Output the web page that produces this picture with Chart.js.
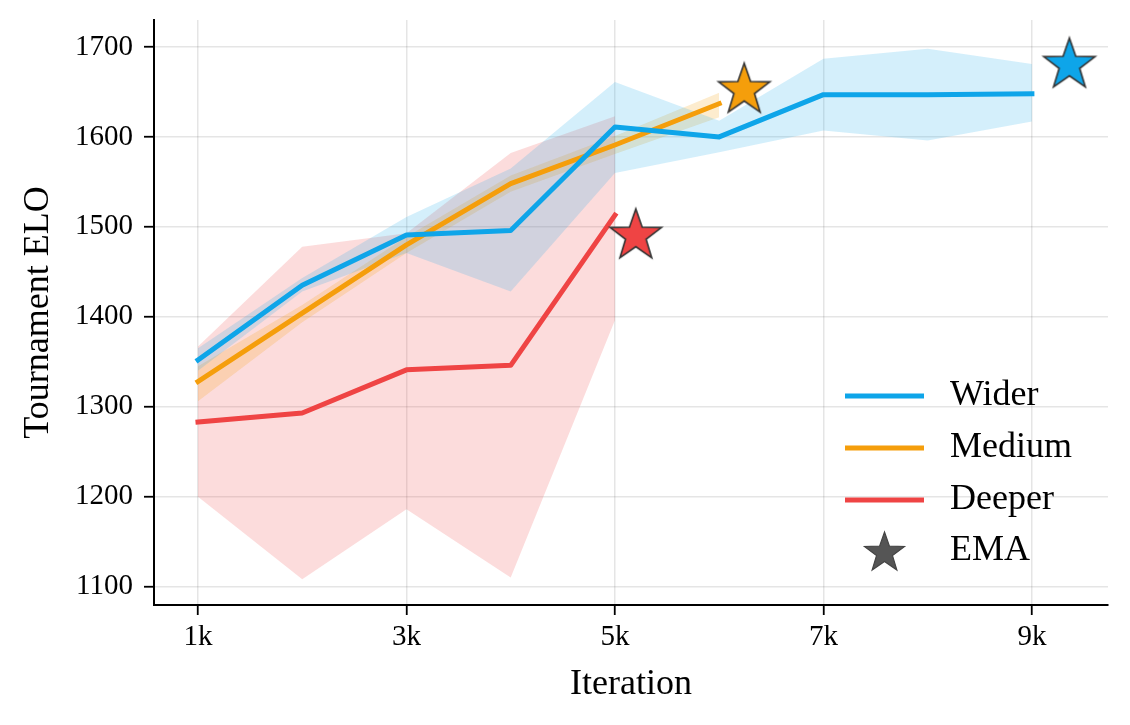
<!DOCTYPE html>
<html>
<head>
<meta charset="utf-8">
<script src="https://cdn.jsdelivr.net/npm/chart.js@4.4.1/dist/chart.umd.min.js"></script>
<style>
  html, body { margin: 0; padding: 0; background: #ffffff; }
  canvas { display: block; }
</style>
</head>
<body>
<canvas id="c" width="1130" height="725"></canvas>
<script>
// ---------------- data ----------------
const ITER = [1000, 2000, 3000, 4000, 5000, 6000, 7000, 8000, 9000];

const WIDER    = [1352, 1435, 1491, 1496, 1611, 1600, 1647, 1647, 1648];
const WIDER_HI = [1365, 1443, 1511, 1565, 1661, 1618, 1687, 1698, 1681];
const WIDER_LO = [1340, 1428, 1471, 1428, 1560, 1583, 1607, 1596, 1617];

const MEDIUM    = [1328, 1404, 1480, 1548, 1591, 1637];
const MEDIUM_HI = [1345, 1413, 1489, 1557, 1601, 1649];
const MEDIUM_LO = [1306, 1394, 1471, 1539, 1581, 1622];

const DEEPER    = [1283, 1293, 1341, 1346, 1513];
const DEEPER_HI = [1367, 1478, 1493, 1582, 1623];
const DEEPER_LO = [1200, 1108, 1186, 1110, 1396];

const EMA_X = [9360, 6240, 5200];
const EMA_Y = [1683, 1655, 1493];

const X_TICKS = [1000, 3000, 5000, 7000, 9000];
const Y_TICKS = [1100, 1200, 1300, 1400, 1500, 1600, 1700];

const SERIES_NAMES = ['Wider', 'Medium', 'Deeper'];
const EMA_NAME = 'EMA';
const X_TITLE = 'Iteration';
const Y_TITLE = 'Tournament ELO';

// ---------------- styles ----------------
const BLUE = '#0ea5e9', ORANGE = '#f59e0b', RED = '#ef4444';
const BLUE_FILL = 'rgba(14,165,233,0.18)';
const ORANGE_FILL = 'rgba(245,158,11,0.20)';
const RED_FILL = 'rgba(239,68,68,0.19)';
const FONT = "'Liberation Serif', 'Times New Roman', serif";
const LW = 5;

function pts(xs, ys) { return ys.map((v, i) => ({ x: xs[i], y: v })); }

function starPath(ctx, cx, cy, R, r) {
  ctx.beginPath();
  for (let i = 0; i < 10; i++) {
    const ang = -Math.PI / 2 + i * Math.PI / 5;
    const rad = (i % 2 === 0) ? R : r;
    const x = cx + rad * Math.cos(ang), y = cy + rad * Math.sin(ang);
    if (i === 0) ctx.moveTo(x, y); else ctx.lineTo(x, y);
  }
  ctx.closePath();
}
function makeStar(fill, R) {
  const s = Math.ceil(R * 2 + 8);
  const cv = document.createElement('canvas');
  cv.width = s; cv.height = s;
  const ctx = cv.getContext('2d');
  starPath(ctx, s / 2, s / 2 + R * 0.1, R, R * 0.4);
  ctx.fillStyle = fill; ctx.fill();
  ctx.lineWidth = 1.6; ctx.strokeStyle = '#333333'; ctx.lineJoin = 'miter';
  ctx.stroke();
  return cv;
}
const STAR_COLORS = [BLUE, ORANGE, RED];
const starImgs = STAR_COLORS.map(c => makeStar(c, 27));

function band(data, fillColor, fillTarget, order) {
  return {
    data, borderWidth: 0, pointRadius: 0, fill: fillTarget,
    backgroundColor: fillColor, borderColor: 'rgba(0,0,0,0)', order, tension: 0
  };
}
function line(label, data, color, order) {
  return {
    label, data, borderColor: color, backgroundColor: color, borderWidth: LW,
    pointRadius: 0, fill: false, tension: 0, order,
    borderJoinStyle: 'round', borderCapStyle: 'square'
  };
}

const datasets = [
  band(pts(ITER, DEEPER_HI), RED_FILL, '+1', 20),
  band(pts(ITER, DEEPER_LO), RED_FILL, false, 20),
  band(pts(ITER, MEDIUM_HI), ORANGE_FILL, '+1', 19),
  band(pts(ITER, MEDIUM_LO), ORANGE_FILL, false, 19),
  band(pts(ITER, WIDER_HI), BLUE_FILL, '+1', 18),
  band(pts(ITER, WIDER_LO), BLUE_FILL, false, 18),
  line(SERIES_NAMES[2], pts(ITER, DEEPER), RED, 5),
  line(SERIES_NAMES[1], pts(ITER, MEDIUM), ORANGE, 4),
  line(SERIES_NAMES[0], pts(ITER, WIDER), BLUE, 3),
  {
    type: 'scatter', label: EMA_NAME, data: pts(EMA_X, EMA_Y),
    pointStyle: starImgs, pointRadius: 27, order: 1, clip: false
  }
];

// custom legend inside the plot area
const legendPlugin = {
  id: 'innerLegend',
  afterDraw(chart) {
    const ctx = chart.ctx;
    const items = [
      { label: SERIES_NAMES[0], color: BLUE },
      { label: SERIES_NAMES[1], color: ORANGE },
      { label: SERIES_NAMES[2], color: RED },
      { label: EMA_NAME, star: true }
    ];
    const x0 = 845, x1 = 924, tx = 950;
    const ys = [396, 448, 500, 551];
    ctx.save();
    items.forEach((it, i) => {
      const y = ys[i];
      if (it.star) {
        starPath(ctx, (x0 + x1) / 2, y + 2, 21, 21 * 0.4);
        ctx.fillStyle = '#555555'; ctx.fill();
        ctx.lineWidth = 1.2; ctx.strokeStyle = '#444444'; ctx.stroke();
      } else {
        ctx.beginPath();
        ctx.moveTo(x0, y); ctx.lineTo(x1, y);
        ctx.lineWidth = LW; ctx.strokeStyle = it.color; ctx.lineCap = 'butt';
        ctx.stroke();
      }
      ctx.fillStyle = '#000000';
      ctx.font = '36px ' + FONT;
      ctx.textBaseline = 'middle';
      ctx.textAlign = 'left';
      ctx.fillText(it.label, tx, y);
    });
    ctx.restore();
  }
};

function zeroPad(s) { s.paddingTop = 0; s.paddingBottom = 0; s.paddingLeft = 0; s.paddingRight = 0; }

new Chart(document.getElementById('c'), {
  type: 'line',
  data: { datasets },
  options: {
    responsive: false,
    animation: false,
    layout: { autoPadding: false, padding: { left: 0, right: 22, top: 20, bottom: 0 } },
    plugins: { legend: { display: false }, tooltip: { enabled: false } },
    scales: {
      x: {
        type: 'linear', min: 578, max: 9730,
        afterBuildTicks: (s) => { s.ticks = X_TICKS.map(v => ({ value: v })); },
        afterFit: (s) => { s.height = 120; zeroPad(s); },
        ticks: {
          callback: (v) => (v / 1000) + 'k',
          color: '#000', font: { family: FONT, size: 29 }, padding: 5,
          maxRotation: 0, autoSkip: false
        },
        grid: { color: 'rgba(0,0,0,0.10)', lineWidth: 1.5, tickColor: '#000', tickLength: 10, tickWidth: 1.8 },
        border: { color: '#000', width: 2 },
        title: { display: true, text: X_TITLE, color: '#000', font: { family: FONT, size: 36 }, padding: { top: 0, bottom: 19 } }
      },
      y: {
        type: 'linear', min: 1079.5, max: 1730,
        afterBuildTicks: (s) => { s.ticks = Y_TICKS.map(v => ({ value: v })); },
        afterFit: (s) => { s.width = 154; zeroPad(s); },
        ticks: {
          callback: (v) => String(v),
          color: '#000', font: { family: FONT, size: 29 }, padding: 11, autoSkip: false
        },
        grid: { color: 'rgba(0,0,0,0.10)', lineWidth: 1.5, tickColor: '#000', tickLength: 10, tickWidth: 1.8 },
        border: { color: '#000', width: 2 },
        title: { display: true, text: Y_TITLE, color: '#000', font: { family: FONT, size: 36 }, padding: { top: 17, bottom: 0 } }
      }
    }
  },
  plugins: [legendPlugin]
});
</script>
</body>
</html>
